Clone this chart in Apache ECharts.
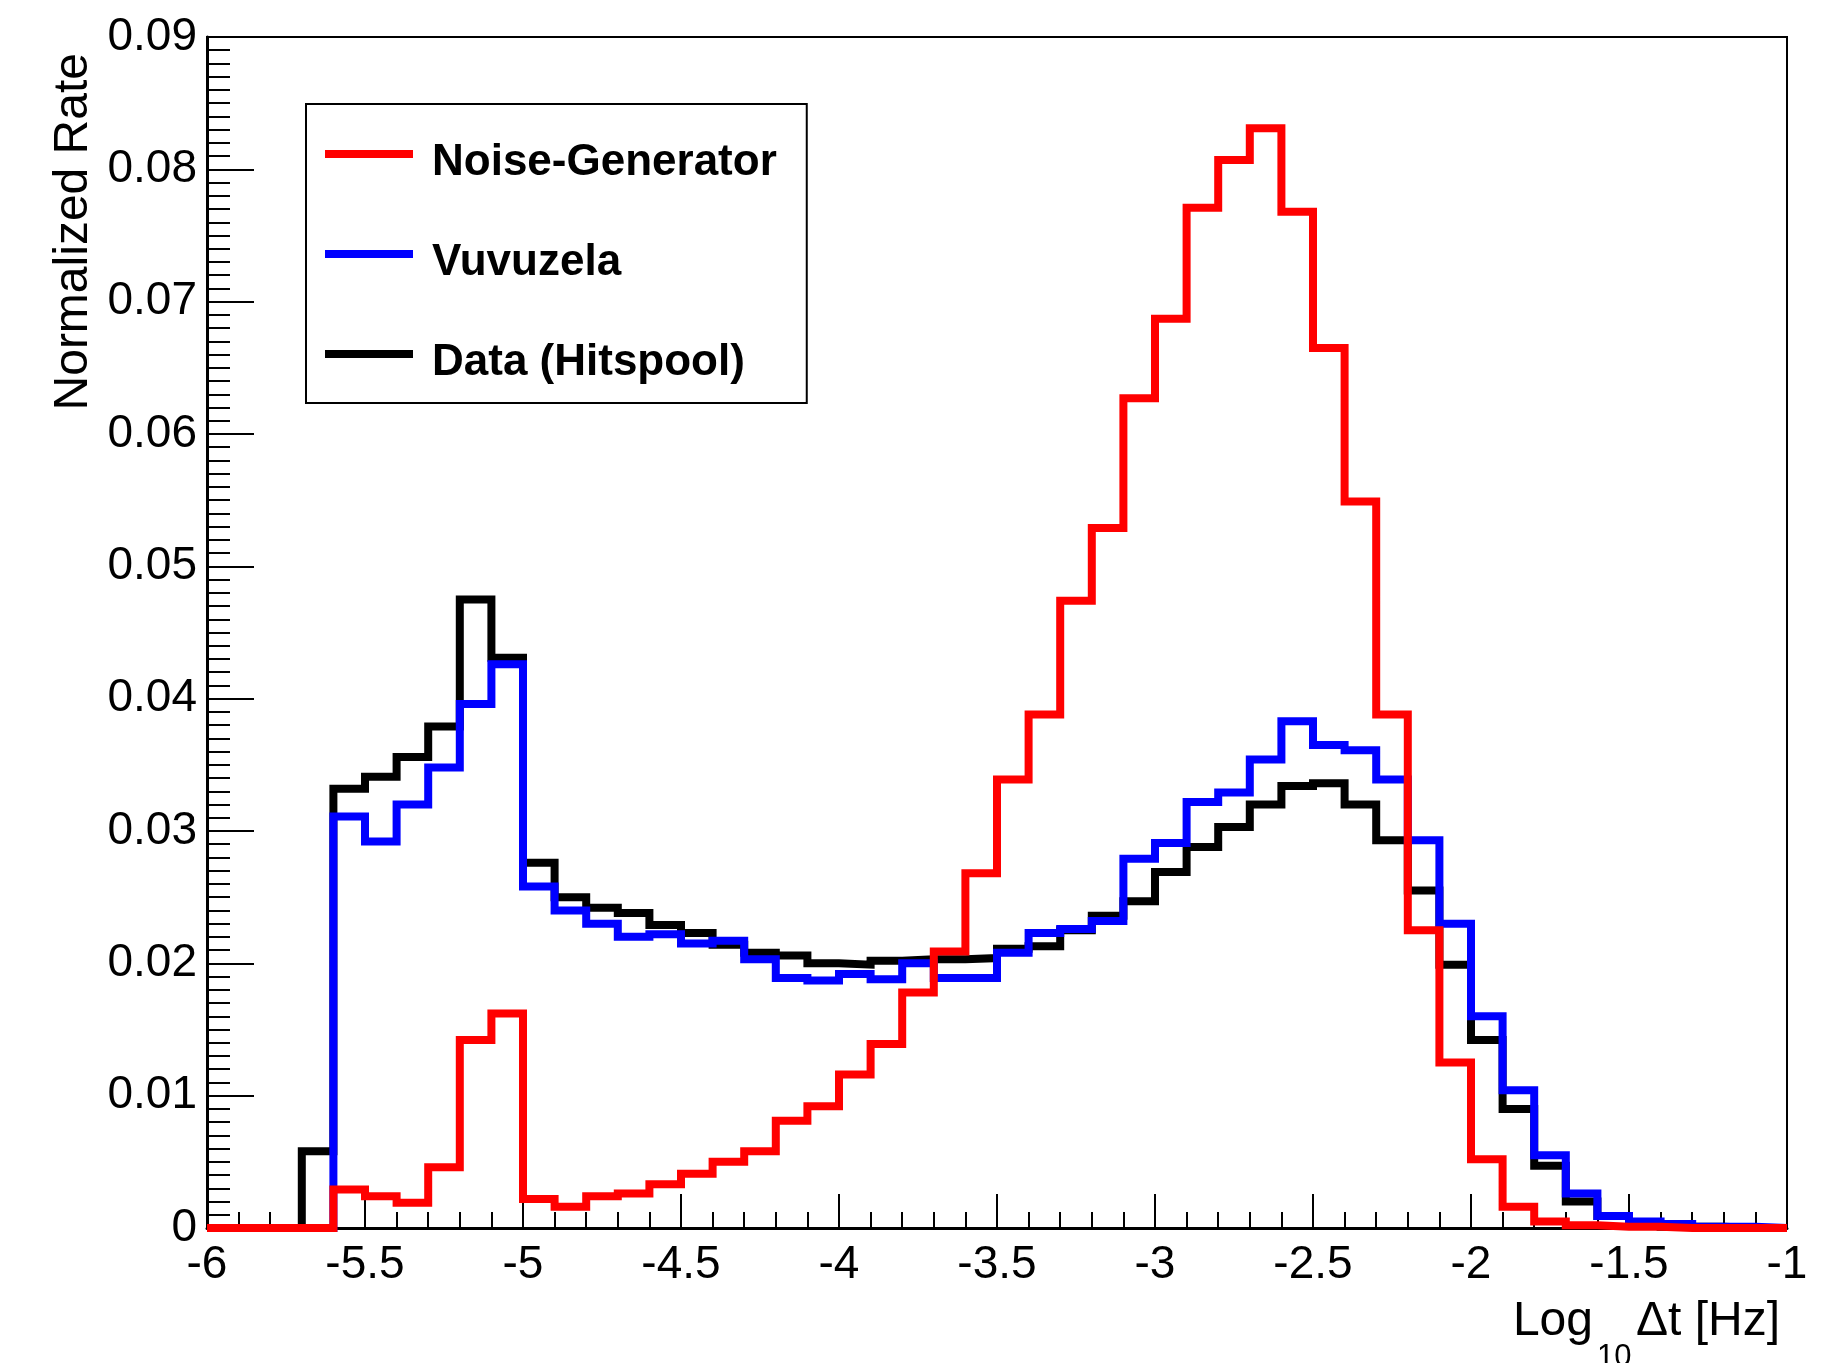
<!DOCTYPE html>
<html>
<head>
<meta charset="utf-8">
<title>Normalized Rate vs Log10 Δt</title>
<script src="https://cdn.jsdelivr.net/npm/echarts@6/dist/echarts.min.js"></script>
<style>
  html, body { margin: 0; padding: 0; background: #fff; }
  #chart { width: 1839px; height: 1363px; }
</style>
</head>
<body>
<div id="chart"></div>
<script>
// Histogram bin edges (log10 of Δt), 50 bins of width 0.1
const binEdges = [
  -6.0, -5.9, -5.8, -5.7, -5.6, -5.5, -5.4, -5.3, -5.2, -5.1,
  -5.0, -4.9, -4.8, -4.7, -4.6, -4.5, -4.4, -4.3, -4.2, -4.1,
  -4.0, -3.9, -3.8, -3.7, -3.6, -3.5, -3.4, -3.3, -3.2, -3.1,
  -3.0, -2.9, -2.8, -2.7, -2.6, -2.5, -2.4, -2.3, -2.2, -2.1,
  -2.0, -1.9, -1.8, -1.7, -1.6, -1.5, -1.4, -1.3, -1.2, -1.1,
  -1.0
];

// Bin contents (normalized rate) per source
const noiseGenerator = [
  0, 0, 0, 0, 0.0029, 0.0024, 0.0019, 0.0046, 0.0142, 0.0162,
  0.0022, 0.0016, 0.0024, 0.0026, 0.0033, 0.0041, 0.0050, 0.0058, 0.0081, 0.0092,
  0.0116, 0.0139, 0.0178, 0.0209, 0.0268, 0.0339, 0.0388, 0.0474, 0.0529, 0.0627,
  0.0687, 0.0771, 0.0807, 0.0831, 0.0768, 0.0665, 0.0549, 0.0388, 0.0225, 0.0125,
  0.0052, 0.0016, 0.0005, 0.0002, 0.0001, 0.0001, 0, 0, 0, 0
];
const vuvuzela = [
  0, 0, 0, 0, 0.0311, 0.0292, 0.0320, 0.0348, 0.0396, 0.0426,
  0.0258, 0.0240, 0.0230, 0.0220, 0.0222, 0.0215, 0.0217, 0.0203, 0.0189, 0.0187,
  0.0192, 0.0188, 0.0200, 0.0189, 0.0189, 0.0208, 0.0223, 0.0226, 0.0232, 0.0279,
  0.0291, 0.0322, 0.0329, 0.0354, 0.0383, 0.0365, 0.0361, 0.0339, 0.0293, 0.0230,
  0.0160, 0.0104, 0.0055, 0.0026, 0.0009, 0.0005, 0.0003, 0.0001, 0.0001, 0
];
const hitspool = [
  0, 0, 0, 0.0058, 0.0332, 0.0341, 0.0356, 0.0379, 0.0475, 0.0431,
  0.0276, 0.0250, 0.0242, 0.0238, 0.0229, 0.0223, 0.0214, 0.0208, 0.0206, 0.0200,
  0.0199, 0.0202, 0.0203, 0.0203, 0.0204, 0.0211, 0.0213, 0.0225, 0.0236, 0.0247,
  0.0269, 0.0288, 0.0303, 0.0320, 0.0334, 0.0336, 0.0320, 0.0293, 0.0255, 0.0199,
  0.0142, 0.0090, 0.0047, 0.0020, 0.0009, 0.0003, 0.0001, 0.0001, 0, 0
];

// Axis tick labels
const xTickLabels = ['-6', '-5.5', '-5', '-4.5', '-4', '-3.5', '-3', '-2.5', '-2', '-1.5', '-1'];
const yTickLabels = ['0', '0.01', '0.02', '0.03', '0.04', '0.05', '0.06', '0.07', '0.08', '0.09'];

const seriesNames = ['Noise-Generator', 'Vuvuzela', 'Data (Hitspool)'];

const FONT = '"Liberation Sans", Arial, Helvetica, sans-serif';

// Legend key: a bar at the top of an 88x26 box, so the entry text
// (centred on the box) sits a little below the bar.
const LEGEND_ICON = 'path://M0,0 H88 V8 H0 Z M0,26 L0,26 Z M88,26 L88,26 Z';

// Turn bin contents into step-line points: one point per lower edge,
// plus a closing point at the last upper edge.
function histPoints(values) {
  const pts = values.map((v, i) => [binEdges[i], v]);
  pts.push([binEdges[values.length], values[values.length - 1]]);
  return pts;
}

function histSeries(name, values, color, z) {
  return {
    name: name,
    type: 'line',
    step: 'end',
    data: histPoints(values),
    showSymbol: false,
    symbol: 'none',
    clip: false,
    z: z,
    color: color,
    lineStyle: { color: color, width: 8, join: 'miter', cap: 'butt' },
    emphasis: { disabled: true }
  };
}

const chart = echarts.init(document.getElementById('chart'), null, { renderer: 'canvas' });

chart.setOption({
  animation: false,
  backgroundColor: '#ffffff',
  grid: {
    left: 207, right: 52, top: 37, bottom: 135,
    show: true, borderColor: '#000', borderWidth: 2, backgroundColor: 'transparent'
  },
  xAxis: {
    type: 'value',
    min: -6, max: -1, interval: 0.5,
    axisLine: { show: true, onZero: false, lineStyle: { color: '#000', width: 3 } },
    axisTick: { show: true, inside: true, length: 34, lineStyle: { color: '#000', width: 2 } },
    minorTick: { show: true, splitNumber: 5, length: 16, lineStyle: { color: '#000', width: 2 } },
    splitLine: { show: false },
    minorSplitLine: { show: false },
    axisLabel: {
      show: true, margin: 14, color: '#000', fontFamily: FONT, fontSize: 46,
      formatter: v => xTickLabels[Math.round((v + 6) / 0.5)],
      showMinLabel: true, showMaxLabel: true
    }
  },
  yAxis: {
    type: 'value',
    min: 0, max: 0.09, interval: 0.01,
    axisLine: { show: true, onZero: false, lineStyle: { color: '#000', width: 3 } },
    axisTick: { show: true, inside: true, length: 47, lineStyle: { color: '#000', width: 2 } },
    minorTick: { show: true, splitNumber: 10, length: 23, lineStyle: { color: '#000', width: 2 } },
    splitLine: { show: false },
    minorSplitLine: { show: false },
    axisLabel: {
      show: true, margin: 10, color: '#000', fontFamily: FONT, fontSize: 46,
      formatter: v => yTickLabels[Math.round(v / 0.01)],
      showMinLabel: true, showMaxLabel: true
    }
  },
  legend: {
    data: seriesNames,
    orient: 'vertical',
    left: 306, top: 104,
    padding: [34, 30, 15, 19],
    itemWidth: 88, itemHeight: 26, itemGap: 50,
    icon: LEGEND_ICON,
    backgroundColor: '#fff',
    borderColor: '#000', borderWidth: 2, borderRadius: 0,
    selectedMode: false,
    textStyle: {
      color: '#000', fontFamily: FONT, fontWeight: 'bold', fontSize: 44,
      lineHeight: 50, padding: [0, 0, 0, 14]
    }
  },
  graphic: [
    {
      type: 'text',
      x: 74, y: 53,
      rotation: Math.PI / 2,
      style: {
        text: 'Normalized Rate', fill: '#000', font: '48px ' + FONT,
        align: 'right', verticalAlign: 'middle'
      }
    },
    {
      type: 'text',
      x: 1593, y: 1322,
      style: {
        text: 'Log', fill: '#000', font: '48px ' + FONT,
        align: 'right', verticalAlign: 'middle'
      }
    },
    {
      type: 'text',
      x: 1597, y: 1342,
      style: {
        text: '10', fill: '#000', font: '31px ' + FONT,
        align: 'left', verticalAlign: 'top'
      }
    },
    {
      type: 'text',
      x: 1780, y: 1322,
      style: {
        text: 'Δt [Hz]', fill: '#000', font: '48px ' + FONT,
        align: 'right', verticalAlign: 'middle'
      }
    }
  ],
  series: [
    histSeries(seriesNames[0], noiseGenerator, '#ff0000', 4),
    histSeries(seriesNames[1], vuvuzela, '#0000ff', 3),
    histSeries(seriesNames[2], hitspool, '#000000', 2)
  ]
});
</script>
</body>
</html>
